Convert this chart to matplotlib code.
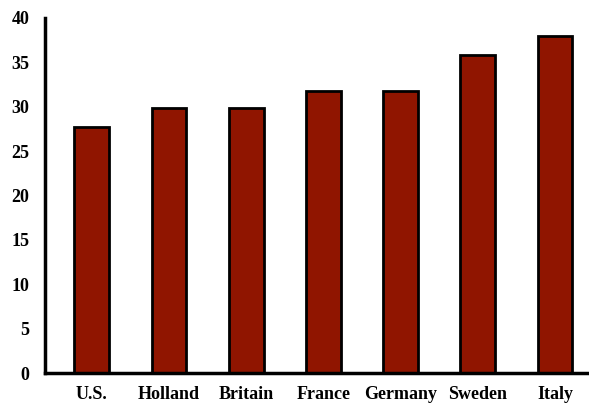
import numpy as np
import matplotlib.pyplot as plt

countries = ['U.S.', 'Holland', 'Britain', 'France', 'Germany', 'Sweden', 'Italy']
values = [27.7, 29.8, 29.8, 31.8, 31.8, 35.8, 37.9]

plt.rcParams['font.family'] = 'Liberation Serif'
plt.rcParams['font.weight'] = 'bold'

fig = plt.figure(figsize=(5.89, 4.05), dpi=100)
ax = fig.add_axes([0.076, 0.079, 0.924, 0.877])

x = np.arange(len(countries))
ax.bar(x, values, width=0.45, color='#901500', edgecolor='black', linewidth=2, zorder=2)

ax.set_xlim(-0.61, 6.44)
ax.set_ylim(0, 40)
ax.set_yticks(np.arange(0, 41, 5))
ax.set_xticks(x)
ax.set_xticklabels(countries)
ax.tick_params(axis='both', length=0, labelsize=13)
ax.tick_params(axis='y', pad=11)
ax.tick_params(axis='x', pad=9)

for s in ['top', 'right']:
    ax.spines[s].set_visible(False)
ax.spines['left'].set_linewidth(2.5)
ax.spines['bottom'].set_linewidth(2.5)

fig.savefig('out.png', dpi=100)
